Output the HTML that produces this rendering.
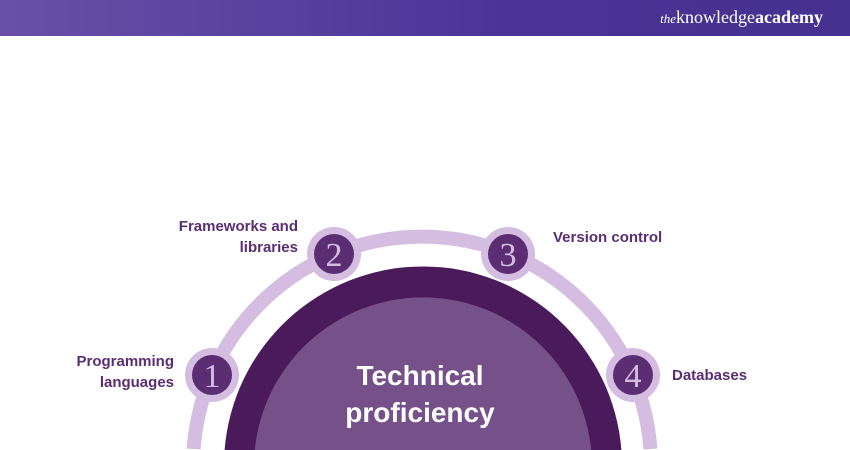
<!DOCTYPE html>
<html style="overflow:hidden;width:850px;height:450px"><head><style>
body{margin:0;width:850px;height:450px;overflow:hidden;background:#fff;font-family:"Liberation Sans",sans-serif;position:relative;}
.hdr{position:absolute;left:0;top:0;width:850px;height:36px;background:linear-gradient(90deg,#6a4fa8,#4a3496 60%,#45318f);}
.logo{position:absolute;right:27px;top:7px;color:#fff;font-family:"Liberation Serif",serif;font-size:18px;}
.lbl{position:absolute;color:#5b2d73;font-weight:bold;font-size:15px;line-height:21px;}
</style></head><body>
<div class="hdr"><div class="logo"><i style="font-size:13px">the</i>knowledge<b>academy</b></div></div>
<svg width="850" height="450" viewBox="0 0 850 450" style="position:absolute;left:0;top:0;display:block">
<path d="M193.6,449 A229,229 0 0 1 650.4,449" fill="none" stroke="#d4bde0" stroke-width="14"/>
<path d="M224.6,450 A199,199 0 0 1 621.4,450 Z" fill="#4b1a5b"/>
<path d="M254.8,450 A169,169 0 0 1 591.2,450 Z" fill="#765088"/>
<g font-family="Liberation Serif,serif" font-size="34" fill="#d4bde0" text-anchor="middle">
<circle cx="212" cy="375" r="27" fill="#d4bde0"/><circle cx="212" cy="375" r="20" fill="#5b2d73"/><text x="212" y="387">1</text>
<circle cx="334" cy="254" r="27" fill="#d4bde0"/><circle cx="334" cy="254" r="20" fill="#5b2d73"/><text x="334" y="266">2</text>
<circle cx="508" cy="254" r="27" fill="#d4bde0"/><circle cx="508" cy="254" r="20" fill="#5b2d73"/><text x="508" y="266">3</text>
<circle cx="633" cy="375" r="27" fill="#d4bde0"/><circle cx="633" cy="375" r="20" fill="#5b2d73"/><text x="633" y="387">4</text>
</g>
<g font-family="Liberation Sans,sans-serif" font-weight="bold" font-size="28" fill="#fff" text-anchor="middle">
<text x="420" y="385">Technical</text><text x="420" y="422">proficiency</text></g>
</svg>
<div class="lbl" style="left:70px;top:351px;text-align:right;width:104px">Programming<br>languages</div>
<div class="lbl" style="left:150px;top:216px;text-align:right;width:148px">Frameworks and<br>libraries</div>
<div class="lbl" style="left:553px;top:227px">Version control</div>
<div class="lbl" style="left:672px;top:365px">Databases</div>
</body></html>
